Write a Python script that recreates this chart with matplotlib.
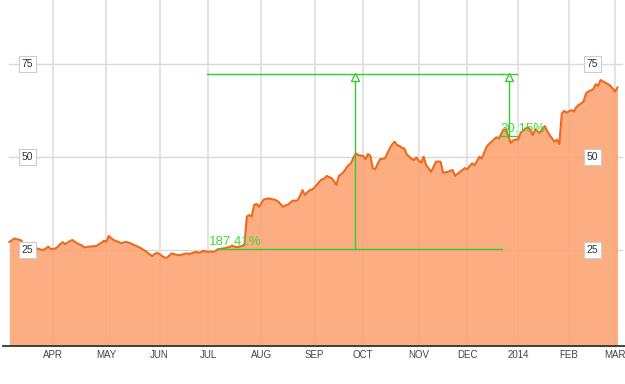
import numpy as np
import pandas as pd
import matplotlib
matplotlib.use("Agg")
import matplotlib.pyplot as plt

# trading days, Mar 5 2013 .. Mar 4 2014 (NYSE holidays removed)
holidays = ["2013-03-29", "2013-05-27", "2013-07-04", "2013-09-02",
            "2013-11-28", "2013-12-25", "2014-01-01", "2014-01-20", "2014-02-17"]
dates = pd.bdate_range("2013-03-05", "2014-03-04", freq="C", holidays=holidays)

prices = [
    27.2, 27.6, 28.1, 27.9, 27.8, 27.5, 26.1, 26.0, 25.8, 25.9,
    25.7, 25.5, 25.3, 25.1, 25.0, 25.4, 25.9, 25.3, 25.3, 25.4,
    25.9, 26.6, 27.1, 26.6, 27.0, 27.4, 27.7, 27.2, 26.8, 26.5,
    26.2, 25.7, 25.8, 25.9, 26.0, 26.0, 26.1, 26.6, 26.9, 27.5,
    27.2, 28.8, 28.2, 27.7, 27.4, 27.2, 26.8, 27.0, 27.2, 27.0,
    26.8, 26.5, 26.2, 25.9, 25.6, 25.2, 24.8, 24.3, 23.8, 23.4,
    24.0, 24.2, 23.9, 23.4, 23.0, 22.9, 23.5, 24.1, 23.9, 23.7,
    23.6, 23.7, 23.9, 24.1, 23.9, 24.1, 24.3, 24.5, 24.3, 24.4,
    24.8, 24.6, 24.5, 24.6, 24.5, 24.7, 25.2, 25.3, 25.4, 25.5,
    25.7, 25.9, 26.1, 25.9, 25.8, 25.9, 26.1, 26.3, 34.0, 34.4,
    34.0, 37.1, 37.4, 36.6, 37.6, 38.6, 38.7, 38.9, 38.7, 38.6,
    38.4, 38.0, 37.3, 36.6, 37.0, 37.2, 37.8, 38.3, 38.2, 38.4,
    39.6, 41.1, 39.8, 40.5, 41.1, 41.3, 41.8, 42.6, 43.4, 44.0,
    44.2, 44.9, 44.6, 44.3, 43.5, 42.5, 44.9, 45.4, 46.0, 47.0,
    47.8, 48.3, 49.8, 51.0, 50.5, 50.4, 50.3, 49.4, 50.8, 50.3,
    47.0, 46.7, 48.2, 49.4, 49.5, 49.6, 51.0, 52.3, 53.4, 54.1,
    53.2, 53.0, 52.5, 52.3, 50.7, 50.1, 49.5, 49.2, 49.9, 49.0,
    48.5, 50.1, 47.8, 47.0, 46.0, 47.2, 48.7, 48.8, 48.7, 45.8,
    45.9, 46.0, 46.3, 46.5, 44.9, 45.5, 46.0, 46.5, 47.0, 46.7,
    47.6, 48.3, 47.8, 48.9, 50.1, 49.6, 51.2, 52.8, 53.5, 54.1,
    54.7, 55.3, 55.0, 56.2, 57.4, 57.4, 55.5, 53.8, 54.5, 54.7,
    54.7, 56.4, 57.1, 57.6, 58.0, 57.3, 55.9, 57.4, 56.9, 56.5,
    57.5, 58.3, 57.0, 55.9, 55.0, 54.1, 54.7, 53.5, 61.6, 62.4,
    61.9, 62.3, 62.6, 62.2, 63.4, 64.0, 64.4, 64.9, 67.1, 67.6,
    67.9, 68.2, 69.6, 69.1, 70.7, 70.3, 70.0, 69.6, 69.2, 68.4,
    67.6, 68.7,
]

month_labels = ["APR", "MAY", "JUN", "JUL", "AUG", "SEP", "OCT", "NOV",
                "DEC", "2014", "FEB", "MAR"]
y_levels = [25, 50, 75]

# measuring tool readings shown on the chart
base_val = 25.2
pct_1 = 187.41
pct_2 = 30.15
top_val = base_val * (1 + pct_1 / 100)
base_val_2 = top_val / (1 + pct_2 / 100)

x = np.arange(len(prices))
s = pd.Series(prices, index=dates)
month_start = s.groupby([dates.year, dates.month]).head(1).index
tick_pos = [dates.get_loc(d) for d in month_start[1:]]

fig = plt.figure(figsize=(6.25, 3.84), dpi=100)
ax = fig.add_axes([3 / 625, 38 / 384, 622 / 625, 346 / 384])
ax.set_xlim(-2.64, 254.1)
ax.set_ylim(-0.8, 92.2)

for t in tick_pos:
    ax.axvline(t, color="#e4e4e4", lw=1.5, zorder=0)
for lv in y_levels:
    ax.plot([0.01, 0.995], [lv, lv], color="#dadada", lw=1,
            transform=ax.get_yaxis_transform(), zorder=0.5)

ax.fill_between(x, -0.8, prices, color="#fca676", alpha=0.92, lw=0, zorder=1)
ax.plot(x, prices, color="#ec6a1e", lw=1.5, zorder=2)

green = "#33cc33"
txt_green = "#3ddd3d"
# measure 1
ax.plot([81.5, 203.4], [top_val, top_val], color=green, lw=1, zorder=3)
ax.plot([85.7, 203.4], [base_val, base_val], color=green, lw=1, zorder=3)
ax.plot([142.7, 142.7], [base_val, top_val - 1], color=green, lw=1, zorder=3)
ax.plot([142.7], [top_val - 0.9], marker="^", ms=6, mfc="white", mec=green,
        mew=1, zorder=4)
ax.text(82.5, 26.3, f"{pct_1:.2f}%", color=txt_green, fontsize=9.5,
        family="Liberation Sans", ha="left", va="baseline", zorder=5)
# measure 2
ax.plot([202.5, 209.6], [top_val - 0.2, top_val - 0.2], color=green, lw=1, zorder=3)
ax.plot([202.5, 209.6], [base_val_2, base_val_2], color=green, lw=1, zorder=3)
ax.plot([206.2, 206.2], [base_val_2, top_val - 1], color=green, lw=1, zorder=3)
ax.plot([206.2], [top_val - 0.9], marker="^", ms=6, mfc="white", mec=green,
        mew=1, zorder=4)
ax.text(202.8, 56.8, f"{pct_2:.2f}%", color=txt_green, fontsize=9.5,
        family="Liberation Sans", ha="left", va="baseline", zorder=5)

# boxed value labels on both sides
for lv in y_levels:
    for xf in (0.0394, 0.9475):
        ax.text(xf, lv, str(lv), transform=ax.get_yaxis_transform(),
                ha="center", va="center", fontsize=7.5, color="#333333",
                family="Liberation Sans", zorder=6,
                bbox=dict(boxstyle="square,pad=0.25", fc="white",
                          ec="#cccccc", lw=0.8))

for sp in ["top", "left", "right"]:
    ax.spines[sp].set_visible(False)
ax.spines["bottom"].set_color("#333333")
ax.spines["bottom"].set_linewidth(1.3)
ax.set_yticks([])
ax.set_xticks(tick_pos)
ax.set_xticklabels(month_labels, fontsize=7, color="#444444",
                   family=["Liberation Sans Narrow", "Liberation Sans"])
ax.tick_params(axis="x", length=0, pad=3)

fig.savefig("out.png", dpi=100)
